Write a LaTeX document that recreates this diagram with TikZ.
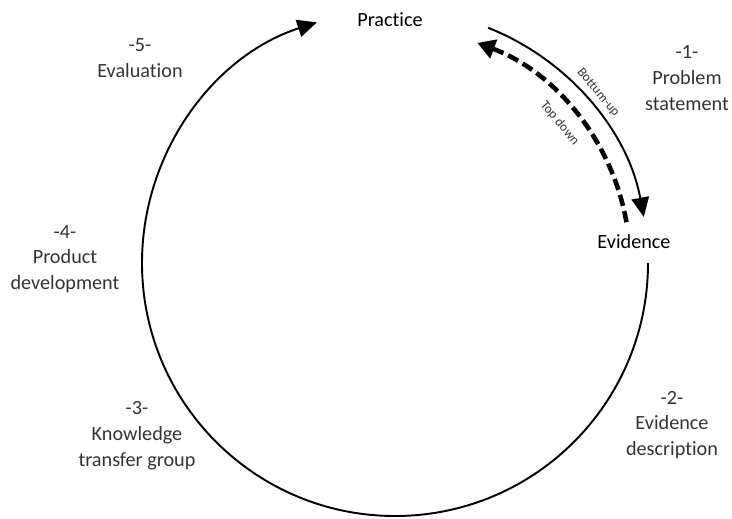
\documentclass[tikz,border=0pt]{standalone}
\usepackage{fontspec}
\setmainfont{Carlito}[Ligatures=NoCommon]
\usetikzlibrary{arrows.meta,calc}

\begin{document}
\begin{tikzpicture}[x=0.02cm,y=0.02cm,
	stage/.style={align=center,text=black!80,font=\fontsize{11.5}{14.7}\selectfont},
	pole/.style={font=\fontsize{11.5}{14.7}\selectfont},
	dir/.style={text=black!80,font=\fontsize{7.5}{9}\selectfont,rotate=-50,inner sep=1pt},
	cycle/.style={line width=1.1pt,-{Triangle[length=11pt,width=10pt]}},
	flow/.style={line width=2.6pt,dash pattern=on 6.5pt off 3pt,-{Triangle[length=10pt,width=11pt]}}]
	\useasboundingbox (0,0) rectangle (732,518);
	\coordinate (c) at (395,255);
	\node[pole] (practice) at (390,498) {Practice};
	\node[pole] (evidence) at (634,276) {Evidence};
	\node[stage] (s1) at (687,440) {-1-\\Problem\\statement};
	\node[stage] (s2) at (672,93) {-2-\\Evidence\\description};
	\node[stage] (s3) at (137,82) {-3-\\Knowledge\\transfer group};
	\node[stage] (s4) at (65,259) {-4-\\Product\\development};
	\node[stage] (s5) at (140,460) {-5-\\Evaluation};
	\path (c) ++(0:253) coordinate (e1);
	\path (c) ++(68.4:253) coordinate (p1);
	\path (c) ++(10:235) coordinate (e2);
	\draw[cycle] (e1) arc[start angle=0,end angle=-252,radius=253];
	\draw[cycle] (p1) arc[start angle=68.4,end angle=10.5,radius=253];
	\draw[flow] (e2) arc[start angle=10,end angle=69.5,radius=235];
	\node[dir] (bu) at ($(c)+(40:265)$) {Bottum-up};
	\node[dir] (td) at ($(c)+(40.3:216)$) {Top down};
\end{tikzpicture}
\end{document}
